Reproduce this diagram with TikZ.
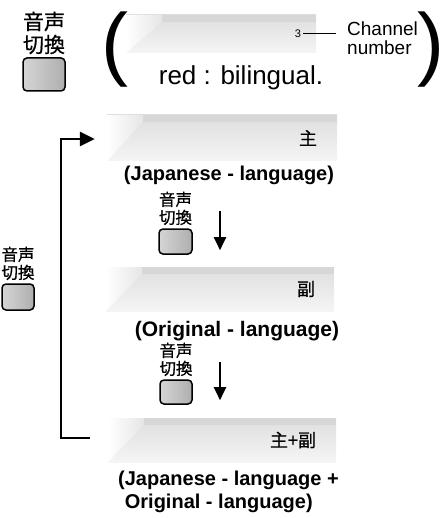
\documentclass[tikz,border=0pt]{standalone}
\usepackage{fontspec}
\setmainfont{Liberation Sans}
\newfontfamily\jpfont[FakeBold=0.7]{Noto Sans CJK JP}
\usetikzlibrary{arrows.meta,positioning,calc}

\begin{document}
\begin{tikzpicture}[x=1pt,y=-1pt,
  chanbar/.style={draw=none,inner sep=0pt,minimum width=#1,
    top color=gray!26,bottom color=gray!8,
    path picture={
      \fill[gray!31] ($(path picture bounding box.north west)+(36pt,0pt)$)
        rectangle ($(path picture bounding box.north east)+(0pt,-7pt)$);
      \shade[left color=white,right color=gray!20]
        (path picture bounding box.north west) -- ++(36pt,0pt) -- ++(0pt,-7pt)
        -- (path picture bounding box.south west) -- cycle;}},
  barlabel/.style={inner sep=0pt,font=\jpfont\fontsize{18}{20}\selectfont},
  jplabel/.style={inner sep=0pt,align=center,font=\jpfont\fontsize{16.5}{18}\selectfont},
  button/.style={draw,line width=1.5pt,rounded corners=4pt,
    left color=gray!33,right color=gray!63},
  caption/.style={inner sep=0pt,font=\bfseries\fontsize{20}{23}\selectfont},
  steparrow/.style={line width=2pt,-{Triangle[length=13pt,width=12pt]}},
  looparrow/.style={line width=2.5pt,-{Triangle[length=15pt,width=14pt]}}]
\useasboundingbox (0,0) rectangle (445,518);

% top: channel display
\node[button,minimum width=42pt,minimum height=33pt] (btn0) at (44,74.5) {};
\node[jplabel,font=\jpfont\fontsize{21}{23}\selectfont] (lbl0) at (44,33) {音声\\切換};
\node[inner sep=0pt,anchor=base west,font=\fontsize{81}{81}\selectfont] (lparen) at (101,71) {(};
\node[inner sep=0pt,anchor=base east,font=\fontsize{81}{81}\selectfont] (rparen) at (445,71) {)};
\node[chanbar=190pt,minimum height=38pt] (bar1) at (221,34) {};
\node[inner sep=2pt,anchor=east,font=\fontsize{11}{13}\selectfont] (num3) at ([xshift=-13pt]bar1.east) {3};
\node[inner sep=0pt,align=left,anchor=west,font=\fontsize{19}{18.5}\selectfont] (chan) at (347,38) {Channel\\number};
\draw[line width=1pt] (num3.east) -- ($(chan.west |- num3.east)+(-11,0)$);
\node[inner sep=0pt,anchor=base,font=\fontsize{26}{28}\selectfont] (bilingual) at (241,85) {red : bilingual.};

% sound modes
\node[chanbar=230pt,minimum height=46pt] (bar2) at (222,138) {};
\node[barlabel,left=20pt of bar2.east] (main) {主};
\node[caption,anchor=base] (cap2) at (229,181) {(Japanese - language)};

\node[button,minimum width=33pt,minimum height=25pt] (btn1) at (175.5,241.5) {};
\node[jplabel,above=3pt of btn1] (lbl1) {音声\\切換};
\draw[steparrow] ($(bar2.south)+(-2,50)$) -- ($(bar2.south)+(-2,89)$);

\node[chanbar=228pt,minimum height=44pt] (bar3) at (220,289) {};
\node[barlabel,left=19pt of bar3.east] (sub) {副};
\node[caption,anchor=base,font=\bfseries\fontsize{21}{23}\selectfont] (cap3) at (237,336) {(Original - language)};

\node[button,minimum width=32pt,minimum height=24pt] (btn2) at (176,392) {};
\node[jplabel,above=3pt of btn2] (lbl2) {音声\\切換};
\draw[steparrow] ($(bar3.south)+(0,51)$) -- ($(bar3.south)+(0,89)$);

\node[chanbar=228pt,minimum height=44pt] (bar4) at (222,440) {};
\node[barlabel,left=20pt of bar4.east] (both) {主+副};
\node[caption,align=left,anchor=north west] (cap4) at (118,471)
  {(Japanese - language\ +\\\hphantom{(}Original - language)};

% loop back
\node[button,minimum width=32pt,minimum height=26pt] (btnL) at (18,297) {};
\node[jplabel,above=3pt of btnL] (lblL) {音声\\切換};
\draw[looparrow] ([xshift=-18pt,yshift=2pt]bar4.west) -| ([xshift=-46pt,yshift=-1pt]bar2.west)
  -- ([xshift=-12pt,yshift=-1pt]bar2.west);
\end{tikzpicture}
\end{document}
